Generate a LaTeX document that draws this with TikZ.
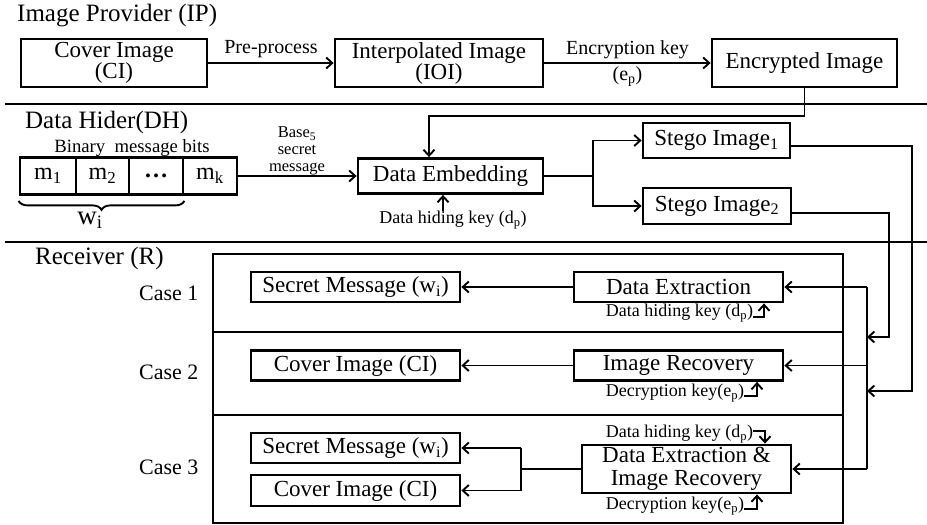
\documentclass[tikz,border=0pt]{standalone}
\usepackage{fontspec}
\setmainfont{Liberation Serif}
\usetikzlibrary{arrows.meta,decorations.pathreplacing,calc}
\begin{document}
\begin{tikzpicture}[x=1pt,y=-1pt,
  box/.style={draw,line width=2.8pt,inner sep=0pt,font=\fontsize{23}{21}\selectfont,align=center},
  cell/.style={draw,line width=2.8pt,inner sep=0pt,minimum height=37pt,font=\fontsize{24}{26}\selectfont},
  lbl/.style={inner sep=0pt,font=\fontsize{18}{14}\selectfont,align=center},
  tlbl/.style={inner sep=0pt,font=\fontsize{20}{16}\selectfont,align=center},
  hdr/.style={inner sep=0pt,anchor=west,font=\fontsize{25}{28}\selectfont},
  casel/.style={inner sep=0pt,anchor=west,font=\fontsize{22}{24}\selectfont},
  con/.style={line width=1.9pt,-{Straight Barb[length=6pt,width=11pt]}},
  ln/.style={line width=1.9pt},
  sep/.style={line width=2pt}]
\useasboundingbox (0,0) rectangle (927,525);

% headers and separators
\node[hdr] (hip) at (17,16) {Image Provider (IP)};
\node[hdr] (hdh) at (25,122) {Data Hider(DH)};
\node[hdr] (hr) at (35,258) {Receiver (R)};
\draw[sep] (5,104) -- (927,104);
\draw[sep] (5,242) -- (927,242);

% Image provider
\node[box,minimum width=186pt,minimum height=48pt] (ci) at (114,63) {Cover Image\\(CI)};
\node[box,minimum width=208pt,minimum height=48pt] (ioi) at (439,63) {Interpolated Image\\(IOI)};
\node[box,minimum width=185pt,minimum height=48pt] (enc) at (804.5,63) {Encrypted Image};
\draw[con] (ci) -- (ioi) node[tlbl,midway,above=4pt] (pp) {Pre-process};
\draw[con] (ioi) -- (enc) node[tlbl,midway,above=3pt] (ek) {Encryption key}
  node[tlbl,midway,below=3pt] (ekp) {(e\textsubscript{p})};

% Data hider
\node[lbl,font=\fontsize{18.7}{14}\selectfont] (bmb) at (132,148) {Binary\ \ message bits};
\node[cell,minimum width=56pt] (m1) at (48,176) {m\textsubscript{1}};
\node[cell,minimum width=53pt] (m2) at (102.5,176) {m\textsubscript{2}};
\node[cell,minimum width=54pt] (m3) at (156,176) {\bfseries …};
\node[cell,minimum width=54pt] (mk) at (210,176) {m\textsubscript{k}};
\draw[ln,decorate,decoration={brace,mirror,amplitude=9pt}]
  ([yshift=-5pt]m1.south west) -- ([yshift=-5pt]m3.south east);
\node[inner sep=0pt,font=\fontsize{27}{28}\selectfont] (wi) at (90,220) {w\textsubscript{i}};
\node[lbl,font=\fontsize{16.5}{16.8}\selectfont] (b5) at (297,151) {Base\textsubscript{5}\\secret\\message};
\node[box,minimum width=185pt,minimum height=35pt] (demb) at (450.5,176) {Data Embedding};
\draw[con] (mk.east) -- (demb.west);
\draw[con] (enc.south) -- ++(0,28) -| ([xshift=-21.5pt]demb.north);
\node[lbl] (dhk) at (453,220) {Data hiding key (d\textsubscript{p})};
\draw[con] ([xshift=-10pt]dhk.north) -- ([xshift=-7.5pt]demb.south);

\node[box,minimum width=147pt,minimum height=35pt] (s1) at (716.5,140.5) {Stego Image\textsubscript{1}};
\node[box,minimum width=148pt,minimum height=36pt] (s2) at (717,206) {Stego Image\textsubscript{2}};
\coordinate (br) at (593,176);
\draw[ln] (demb.east) -- (br);
\draw[con] (br) |- (s1.west);
\draw[con] (br) |- (s2.west);

% Receiver frame
\draw[line width=1.5pt] (213,254) rectangle (843,523);
\draw[line width=1.5pt] (213,332) -- (843,332);
\draw[line width=1.5pt] (213,415) -- (843,415);
\node[casel] (c1) at (139,293) {Case 1};
\node[casel] (c2) at (139,372) {Case 2};
\node[casel] (c3) at (139,467) {Case 3};

% Case 1
\node[box,minimum width=209pt,minimum height=30pt] (sm1) at (355.5,287) {Secret Message (w\textsubscript{i})};
\node[box,minimum width=209pt,minimum height=30pt] (dext) at (678.5,287) {Data Extraction};
\draw[con] (dext.west) -- (sm1.east);
\node[lbl] (dk1) at (679.5,313) {Data hiding key (d\textsubscript{p})};
\draw[con] ([yshift=-4pt]dk1.east) -| ([xshift=85.5pt]dext.south);

% Case 2
\node[box,minimum width=209pt,minimum height=30pt] (ci2) at (355.5,365.5) {Cover Image (CI)};
\node[box,minimum width=209pt,minimum height=30pt] (irec) at (678.5,365.5) {Image Recovery};
\draw[con] (irec.west) -- (ci2.east);
\node[lbl] (ek2) at (675,393) {Decryption key(e\textsubscript{p})};
\draw[con] ([yshift=-3pt]ek2.east) -| ([xshift=78.5pt]irec.south);

% Case 3
\node[box,minimum width=209pt,minimum height=30pt] (sm3) at (355.5,448) {Secret Message (w\textsubscript{i})};
\node[box,minimum width=209pt,minimum height=31pt] (ci3) at (355.5,490.5) {Cover Image (CI)};
\node[box,minimum width=209pt,minimum height=48pt,font=\fontsize{23}{23.5}\selectfont] (deir) at (686.5,469) {Data Extraction \&\\Image Recovery};
\node[lbl] (dk3) at (679.5,434) {Data hiding key (d\textsubscript{p})};
\draw[con] ([yshift=3pt]dk3.east) -| ([xshift=78.5pt]deir.north);
\node[lbl] (ek3) at (675,506) {Decryption key(e\textsubscript{p})};
\draw[con] ([yshift=-3pt]ek3.east) -| ([xshift=70.5pt]deir.south);
\coordinate (sp) at (521,469);
\draw[ln] (deir.west) -- (sp);
\draw[ln] (sp |- sm3.east) -- (sp |- ci3.east);
\draw[con] (sp |- sm3.east) -- (sm3.east);
\draw[con] (sp |- ci3.east) -- (ci3.east);

% bus from stego images
\coordinate (bus) at (867,288);
\coordinate (r1) at (912,391);
\coordinate (r2) at (889,337);
\draw[con] ([yshift=-5.5pt]s1.east) -| (r1) -- (r1 -| bus);
\draw[con] ([yshift=-7pt]s2.east) -| (r2) -- (r2 -| bus);
\draw[ln] (bus |- dext.east) -- (bus |- deir.east);
\draw[con] (bus |- dext.east) -- (dext.east);
\draw[con] (bus |- irec.east) -- (irec.east);
\draw[con] (bus |- deir.east) -- (deir.east);
\end{tikzpicture}
\end{document}
